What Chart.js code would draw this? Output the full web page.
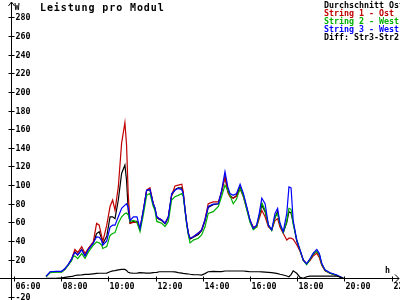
<!DOCTYPE html>
<html>
<head>
<meta charset="utf-8">
<script src="https://cdn.jsdelivr.net/npm/chart.js@4/dist/chart.umd.min.js"></script>
<style>
  html, body { margin: 0; padding: 0; background: #fff; }
  #wrap { width: 400px; height: 300px; }
</style>
</head>
<body>
<div id="wrap"><canvas id="chart" width="400" height="300"></canvas></div>
<script>
// Time of day in hours
const hours = [
  7.36, 7.53, 7.78, 8.02, 8.16, 8.30, 8.44, 8.51, 8.58, 8.70,
  8.87, 9.01, 9.15, 9.36, 9.50, 9.61, 9.72, 9.76, 9.93, 10.07,
  10.18, 10.28, 10.42, 10.56, 10.70, 10.77, 10.84, 10.92, 11.06, 11.21,
  11.34, 11.48, 11.62, 11.76, 11.90, 11.97, 12.05, 12.16, 12.26, 12.40,
  12.54, 12.68, 12.82, 12.96, 13.11, 13.17, 13.25, 13.32, 13.39, 13.46,
  13.60, 13.81, 13.95, 14.09, 14.23, 14.44, 14.66, 14.80, 14.94, 15.06,
  15.15, 15.29, 15.43, 15.58, 15.72, 15.86, 16.00, 16.14, 16.28, 16.39,
  16.50, 16.64, 16.78, 16.92, 17.06, 17.17, 17.27, 17.41, 17.56, 17.65,
  17.74, 17.83, 17.98, 18.12, 18.26, 18.40, 18.54, 18.68, 18.83, 18.94,
  19.04, 19.18, 19.39, 19.68, 19.95
];

// Durchschnitt Ost
const average = [
  2, 6.5, 7, 7, 10, 14.5, 20, 25, 28.5, 25,
  31, 24.5, 31, 38, 48, 50, 42, 37, 45, 66,
  66, 64, 84, 112.5, 121.5, 105, 73, 59, 61, 61,
  53, 72, 94, 95, 80, 75, 65, 63, 62, 58.5,
  65, 89, 95, 97, 97, 91, 73, 59, 48, 42,
  44, 47, 51, 61, 76, 79, 80, 93, 109, 95,
  89, 86, 89, 98, 89, 76, 62, 53.5, 56, 67,
  78.5, 71.5, 57, 52, 65, 71.5, 57, 49, 60, 71.5,
  70, 60, 40, 30, 19.5, 15.5, 20, 26, 29, 25,
  15, 8.5, 5.5, 3, 0
];

// String 1 - Ost
const string1 = [
  2, 6.5, 7, 7, 10, 14.5, 20.5, 25.5, 31, 27.5,
  34, 26.5, 32, 39, 59, 57, 44.5, 39, 57, 77,
  84, 73, 98, 145, 167, 143, 90, 59, 60, 60,
  53.5, 73, 94.5, 97, 80, 75, 66, 64, 62.5, 59,
  66, 89, 99, 100, 101, 93, 73, 59, 48, 43,
  44.5, 48.5, 52, 63, 80, 82, 82, 93, 109, 92,
  87.5, 86, 88, 96, 87.5, 75, 62, 55, 55, 64,
  73, 66, 55, 52, 62, 64, 55, 48, 41, 43,
  43, 42, 36, 29, 19.5, 15.5, 19, 24, 27, 22,
  14, 8, 5.5, 3, 0
];

// String 2 - West
const string2 = [
  1.5, 6, 6.5, 6.5, 9.5, 14, 19, 23, 24, 21,
  26.5, 21.5, 28, 35.5, 39, 38, 35.5, 32, 34, 46,
  48, 49, 59, 66, 69.5, 70, 68, 61, 62, 60,
  50, 68, 89, 91, 77, 73, 61, 60, 59, 55.5,
  61, 84, 87.5, 89, 91, 88, 72, 57, 46, 38,
  41, 43, 46.5, 55, 69.5, 71.5, 77, 88, 100, 94,
  89, 80, 85, 96.5, 88, 74, 60, 52, 55, 67,
  81, 73, 57, 51, 66, 69.5, 58, 49, 62, 75,
  74, 58, 42, 30, 19, 14.5, 20, 26, 29, 25,
  15, 8.5, 5.5, 3, 0
];

// String 3 - West
const string3 = [
  2, 7, 7.5, 7.5, 10.5, 15, 20.5, 25, 27.5, 25,
  30.5, 24, 31, 38, 44.5, 44, 40, 35.5, 40, 55,
  57, 57, 66, 75, 78.5, 80, 76, 62, 66, 66,
  53.5, 73, 94.5, 95.5, 80, 76, 66, 64, 62.5, 59,
  66, 91, 94.5, 96.5, 95, 91, 73, 59, 48, 43,
  44.5, 48.5, 52, 62.5, 77, 79.5, 80, 94.5, 114.5, 98,
  91, 89, 91, 101, 91, 77, 62.5, 53.5, 57, 69.5,
  86, 80, 57, 52, 69.5, 75, 59, 50, 70, 98,
  97, 62, 41, 30.5, 19.5, 15.5, 21, 27, 31, 26.5,
  16, 9, 6, 3.5, 0
];

// Diff: Str3-Str2
const diff = [
  0, 0, 0, 0.5, 1, 1.5, 2, 2.4, 3, 3.3,
  3.7, 4.2, 4.3, 4.8, 5.2, 5.4, 5.4, 5.4, 5.5, 7,
  8, 8.2, 9, 9.6, 9.5, 8.5, 6.4, 5.8, 5.4, 5.6,
  6, 5.8, 5.6, 5.6, 6, 6.2, 6.4, 7, 7, 7,
  7, 7, 6.8, 6, 5.5, 5.2, 5, 4.8, 4.6, 4.3,
  4, 3.8, 3.5, 5, 7, 7.5, 7.2, 7.2, 7.8, 7.8,
  7.8, 7.8, 7.8, 7.8, 7.8, 7.5, 7, 7, 7, 7,
  6.8, 6.6, 6.3, 6, 5.5, 5, 4.3, 3.5, 2.5, 1.7,
  4, 8, 5.4, 1, 0, 1.7, 2.4, 2.4, 2.4, 2.4,
  2.4, 2.4, 2.4, 2.4, 0
];

// Axis ticks
const xTicks = [6, 8, 10, 12, 14, 16, 18, 20, 22];
const xTickLabels = ['06:00', '08:00', '10:00', '12:00', '14:00', '16:00', '18:00', '20:00', '22:00'];
const yTicks = [-20, 20, 40, 60, 80, 100, 120, 140, 160, 180, 200, 220, 240, 260, 280];

const legendLabels = ['Durchschnitt Ost', 'String 1 - Ost', 'String 2 - West', 'String 3 - West', 'Diff: Str3-Str2'];
const seriesColors = ['#000000', '#c00000', '#00b000', '#0000ff', '#000000'];

const MONO = '"DejaVu Sans Mono", "Liberation Mono", monospace';
const Y_AXIS_AT = 5.87; // hour where the vertical axis is drawn

function toPoints(values) {
  return hours.map((h, i) => ({ x: h, y: values[i] }));
}

// Axes, title and legend drawn on top, through the chart scales
const framePlugin = {
  id: 'frame',
  afterDraw(chart) {
    const ctx = chart.ctx;
    const xs = chart.scales.x;
    const ys = chart.scales.y;
    const ax = Math.round(xs.getPixelForValue(Y_AXIS_AT)) + 0.5;
    const ay = Math.round(ys.getPixelForValue(0)) + 0.5;
    const W = chart.width;
    const H = chart.height;

    ctx.save();
    ctx.strokeStyle = '#000';
    ctx.fillStyle = '#000';
    ctx.lineWidth = 1;

    // vertical axis with arrow
    ctx.beginPath();
    ctx.moveTo(ax, H);
    ctx.lineTo(ax, 2);
    ctx.moveTo(ax - 3, 6);
    ctx.lineTo(ax, 2);
    ctx.lineTo(ax + 3, 6);
    // horizontal axis with arrow
    ctx.moveTo(0, ay);
    ctx.lineTo(W - 1, ay);
    ctx.moveTo(W - 5, ay - 4);
    ctx.lineTo(W - 1, ay);
    ctx.lineTo(W - 5, ay + 4);
    ctx.stroke();

    ctx.font = 'bold 8.3px ' + MONO;

    // y ticks + labels
    ctx.textAlign = 'left';
    ctx.textBaseline = 'middle';
    yTicks.forEach(v => {
      const py = Math.round(ys.getPixelForValue(v)) + 0.5;
      ctx.beginPath();
      ctx.moveTo(ax - 3, py);
      ctx.lineTo(ax + 3, py);
      ctx.stroke();
      ctx.fillText(String(v), ax + 4, py + 0.5);
    });

    // x ticks + labels
    ctx.textBaseline = 'top';
    xTicks.forEach((v, i) => {
      const px = Math.round(xs.getPixelForValue(v)) + 0.5;
      ctx.beginPath();
      ctx.moveTo(px, ay - 2);
      ctx.lineTo(px, ay + 3);
      ctx.stroke();
      ctx.fillText(xTickLabels[i], px + 1, ay + 4);
    });

    // units
    ctx.textBaseline = 'alphabetic';
    ctx.fillText('W', ax + 3, 9.5);
    ctx.fillText('h', 385, 273);

    // legend
    legendLabels.forEach((label, i) => {
      ctx.fillStyle = seriesColors[i];
      ctx.fillText(label, 324, 7.5 + i * 8);
    });

    // title
    ctx.fillStyle = '#000';
    ctx.font = 'bold 10px ' + MONO;
    if ('letterSpacing' in ctx) ctx.letterSpacing = '0.9px';
    ctx.fillText('Leistung pro Modul', 40, 10.5);

    ctx.restore();
  }
};

const datasets = [average, string1, string2, string3, diff].map((values, i) => ({
  label: legendLabels[i],
  data: toPoints(values),
  borderColor: seriesColors[i],
  borderWidth: 1.2,
  pointRadius: 0,
  tension: 0,
  fill: false,
  // later strings drawn on top, diff last
  order: [4, 3, 2, 1, 0][i]
}));

new Chart(document.getElementById('chart'), {
  type: 'line',
  data: { datasets: datasets },
  options: {
    responsive: false,
    animation: false,
    devicePixelRatio: 1,
    layout: { padding: 0 },
    plugins: {
      legend: { display: false },
      title: { display: false },
      tooltip: { enabled: false }
    },
    scales: {
      x: { type: 'linear', min: 5.407, max: 22.356, display: false },
      y: { type: 'linear', min: -23.3, max: 298.6, display: false }
    }
  },
  plugins: [framePlugin]
});
</script>
</body>
</html>
